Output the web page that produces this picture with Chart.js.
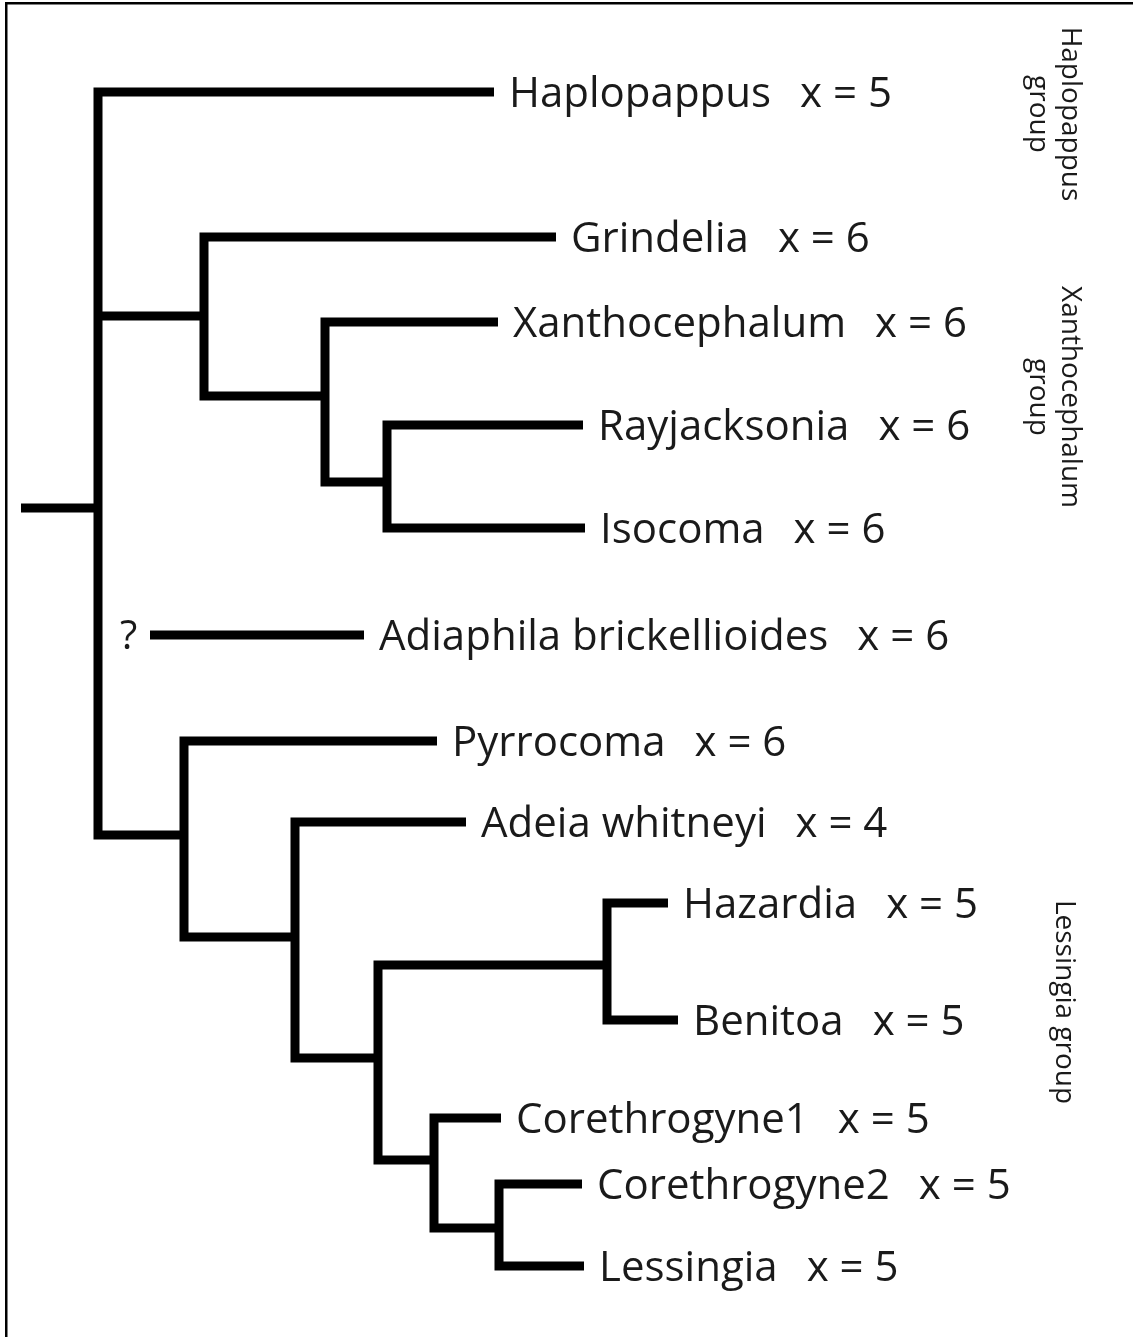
<!DOCTYPE html>
<html>
<head>
<meta charset="utf-8">
<script src="https://cdn.jsdelivr.net/npm/chart.js@4.4.1/dist/chart.umd.min.js"></script>
<style>
  html, body { margin: 0; padding: 0; background: #fff; }
  #wrap { width: 1133px; height: 1337px; }
</style>
</head>
<body>
<div id="wrap"><canvas id="tree" width="1133" height="1337"></canvas></div>
<script>
// tips, top to bottom
const taxa = ['Haplopappus', 'Grindelia', 'Xanthocephalum', 'Rayjacksonia', 'Isocoma',
  'Adiaphila brickellioides', 'Pyrrocoma', 'Adeia whitneyi', 'Hazardia', 'Benitoa',
  'Corethrogyne1', 'Corethrogyne2', 'Lessingia'];
const baseNumber = [5, 6, 6, 6, 6, 6, 6, 4, 5, 5, 5, 5, 5];
const tipY = [92, 237, 322, 425, 528, 635, 741, 822, 903, 1020, 1118, 1184, 1266];
const tipX = [494, 556, 498, 583, 585, 364, 437, 466, 668, 678, 501, 582, 584];
const tipParent = [0, 1, 2, 3, 3, null, 4, 5, 7, 7, 8, 9, 9];

// internal nodes: 0 root, 1 Grindelia+, 2 Xanthocephalum+, 3 Rayjacksonia/Isocoma,
// 4 Pyrrocoma+, 5 Adeia+, 6 Lessingia clade, 7 Hazardia/Benitoa, 8 Corethrogyne+, 9 C2/Lessingia
const nodeX = [98, 204, 325, 387, 184, 295, 378, 607, 434, 499];
const nodeY = [508, 316, 396, 482, 835, 937, 1058, 965, 1160, 1228];
const nodeParent = [null, 0, 1, 2, 0, 4, 5, 6, 6, 8];
const rootX = 21;
const unplacedStartX = 150;   // Adiaphila, position uncertain

const groupLabels = [['Haplopappus', 'group'], ['Xanthocephalum', 'group'], ['Lessingia group']];

const INK = '#000';
const TEXT = '#1a1a1a';
const LINE_W = 9;

// one polyline per node: first child -> node -> last child, extra segments for middle children
function buildSegments() {
  const segs = [];
  nodeX.forEach((nx, n) => {
    const kids = [];
    tipParent.forEach((p, i) => { if (p === n) kids.push({ x: tipX[i], y: tipY[i] }); });
    nodeParent.forEach((p, j) => { if (p === n) kids.push({ x: nodeX[j], y: nodeY[j] }); });
    kids.sort((a, b) => a.y - b.y);
    const first = kids[0], last = kids[kids.length - 1];
    segs.push([{ x: first.x, y: first.y }, { x: nx, y: first.y }, { x: nx, y: last.y }, { x: last.x, y: last.y }]);
    kids.slice(1, -1).forEach(k => segs.push([{ x: nx, y: k.y }, { x: k.x, y: k.y }]));
  });
  segs.push([{ x: rootX, y: nodeY[0] }, { x: nodeX[0], y: nodeY[0] }]);
  tipParent.forEach((p, i) => {
    if (p === null) segs.push([{ x: unplacedStartX, y: tipY[i] }, { x: tipX[i], y: tipY[i] }]);
  });
  return segs;
}

const framePlugin = {
  id: 'frame',
  beforeDraw(chart) {
    const { ctx, width, height } = chart;
    ctx.save();
    ctx.fillStyle = '#fff';
    ctx.fillRect(0, 0, width, height);
    ctx.fillStyle = INK;
    ctx.fillRect(5, 2, width - 5, 2.5);
    ctx.fillRect(5, 2, 2.5, height - 2);
    ctx.restore();
  }
};

const labelPlugin = {
  id: 'tipLabels',
  afterDatasetsDraw(chart) {
    const { ctx, scales: { x, y } } = chart;
    ctx.save();
    ctx.fillStyle = TEXT;
    ctx.textBaseline = 'alphabetic';
    ctx.font = '42px "Open Sans"';
    taxa.forEach((name, i) => {
      const px = x.getPixelForValue(tipX[i]) + 15;
      const py = y.getPixelForValue(tipY[i]) + 15;
      ctx.fillText(name, px, py);
      const w = ctx.measureText(name).width;
      ctx.fillText('x = ' + baseNumber[i], px + w + 29, py);
      if (tipParent[i] === null) {
        ctx.font = '40px "Open Sans"';
        ctx.fillText('?', x.getPixelForValue(unplacedStartX) - 30, py - 1);
        ctx.font = '42px "Open Sans"';
      }
    });

    // group names, rotated to read downwards
    ctx.font = '28px "Open Sans"';
    ctx.textAlign = 'center';
    const anchors = [[1062, 114], [1062, 397], [1056, 1002]];
    groupLabels.forEach((lines, g) => {
      ctx.save();
      ctx.translate(anchors[g][0], anchors[g][1]);
      ctx.rotate(Math.PI / 2);
      lines.forEach((ln, k) => ctx.fillText(ln, 0, k * 32));
      ctx.restore();
    });
    ctx.restore();
  }
};

function draw() {
  const datasets = buildSegments().map(pts => ({
    data: pts,
    showLine: true,
    borderColor: INK,
    borderWidth: LINE_W,
    borderCapStyle: 'butt',
    borderJoinStyle: 'miter',
    pointRadius: 0,
    fill: false,
    tension: 0
  }));

  new Chart(document.getElementById('tree'), {
    type: 'scatter',
    data: { datasets },
    options: {
      responsive: false,
      animation: false,
      layout: { padding: 0 },
      plugins: { legend: { display: false }, tooltip: { enabled: false } },
      scales: {
        x: { type: 'linear', min: 0, max: 1133, display: false },
        y: { type: 'linear', min: 0, max: 1337, reverse: true, display: false }
      }
    },
    plugins: [framePlugin, labelPlugin]
  });
}

document.fonts.load('42px "Open Sans"').then(draw, draw);
</script>
</body>
</html>
